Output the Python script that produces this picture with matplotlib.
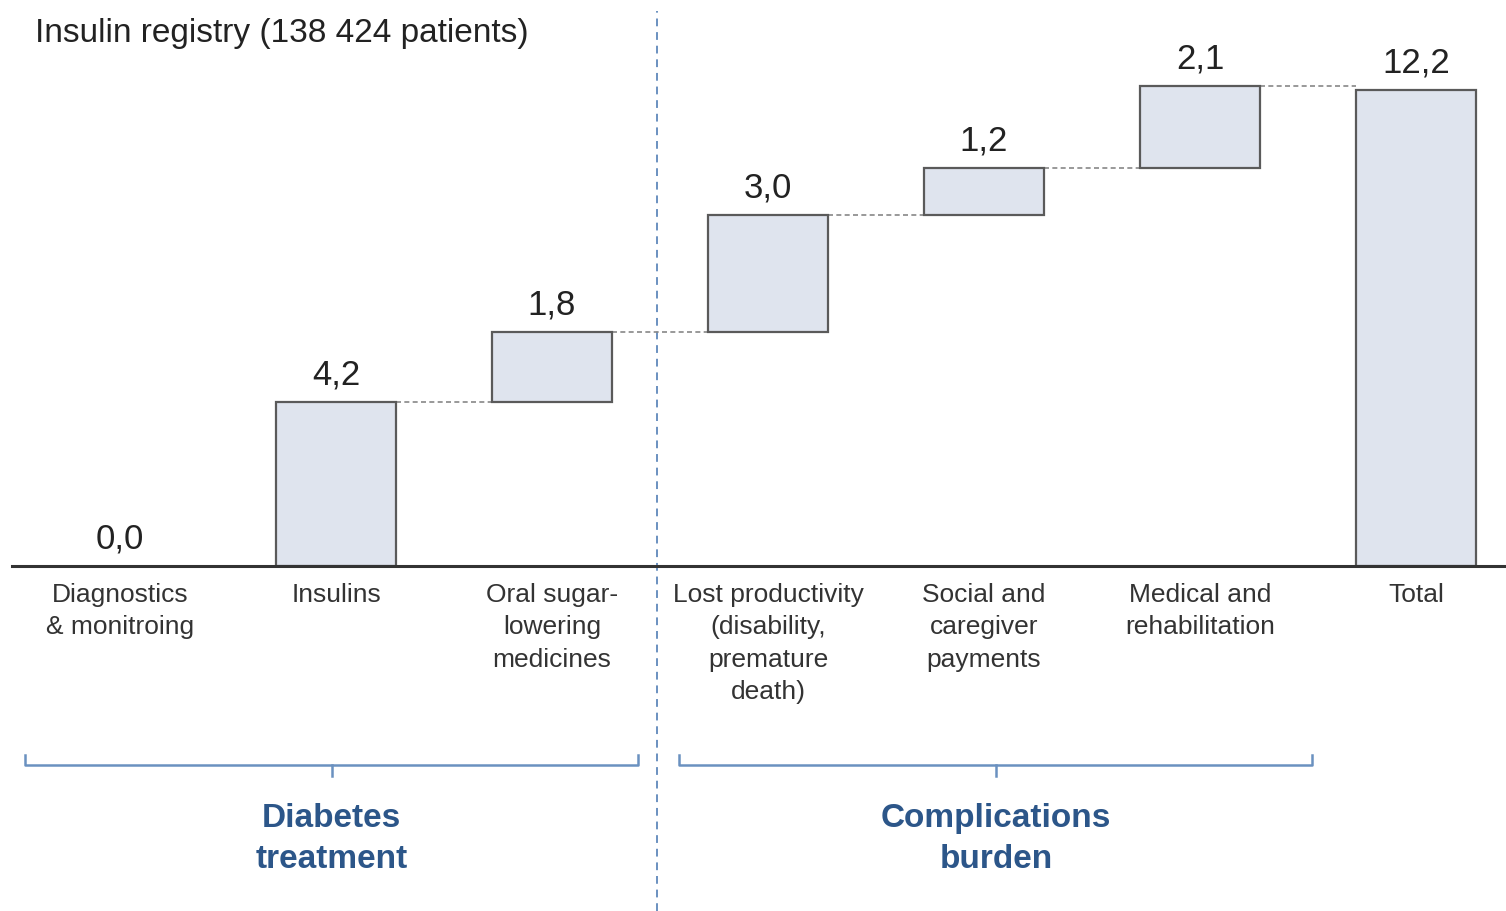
import matplotlib.pyplot as plt
import numpy as np

# insulin registry cost breakdown (values as printed on the chart)
categories = ["Diagnostics\n& monitroing", "Insulins", "Oral sugar-\nlowering\nmedicines",
              "Lost productivity\n(disability,\npremature\ndeath)", "Social and\ncaregiver\npayments",
              "Medical and\nrehabilitation", "Total"]
steps = [0.0, 4.2, 1.8, 3.0, 1.2, 2.1]
total = 12.2
value_labels = ["0,0", "4,2", "1,8", "3,0", "1,2", "2,1", "12,2"]
groups = ["Diabetes\ntreatment", "Complications\nburden"]
group_ranges = [(0, 2), (3, 5)]
title = "Insulin registry (138 424 patients)"

fill = "#dfe4ee"
edge = "#5a5a5a"
blue_line = "#6a91c0"
blue_text = "#2c5689"

plt.rcParams['font.family'] = ['Liberation Sans', 'DejaVu Sans']

fig = plt.figure(figsize=(15.06, 9.12), dpi=100)
ax = fig.add_axes([0, 0, 1, 1])
ax.set_xlim(-120 / 216, (1506 - 120) / 216)
ax.set_ylim(-(912 - 567) / 39, 567 / 39)
ax.axis("off")

w = 0.555
x = np.arange(len(categories))
tops = np.cumsum(steps)
bottoms = tops - np.array(steps)

# floating bars
for i in range(1, len(steps)):
    ax.bar(x[i], steps[i], bottom=bottoms[i], width=w, color=fill,
           edgecolor=edge, linewidth=1.6, zorder=2)
ax.bar(x[-1], total, width=w, color=fill, edgecolor=edge, linewidth=1.6, zorder=2)

# connectors between bars
levels = list(tops) + [total]
for i in range(1, len(categories) - 1):
    ax.plot([x[i] + w / 2, x[i + 1] - w / 2], [levels[i], levels[i]],
            color="#888888", linestyle=(0, (3, 2)), linewidth=1.2, zorder=1)

# value labels
for i, lab in enumerate(value_labels):
    ax.text(x[i], levels[i] + 0.3, lab, ha="center", va="bottom",
            fontsize=25, color="#222222")

# baseline
ax.plot([-108 / 216, ax.get_xlim()[1]], [0, 0], color="#333333", linewidth=2.2, zorder=3)

# category labels
for i, cat in enumerate(categories):
    ax.text(x[i], -0.4, cat, ha="center", va="top", fontsize=19,
            color="#333333", linespacing=1.45)

# divider between groups
ax.plot([2.486, 2.486], [ax.get_ylim()[0], 567 / 39 - 0.3], color=blue_line,
        linestyle=(0, (4, 3)), linewidth=1.4, zorder=0)

# group brackets
by = -5.1
pads = [(0.44, 0.4), (0.41, 0.52)]
for (a, b), (pl, pr), name in zip(group_ranges, pads, groups):
    x0, x1 = x[a] - pl, x[b] + pr
    mid = (x0 + x1) / 2
    ax.plot([x0, x0, x1, x1], [by + 0.25, by, by, by + 0.25], color=blue_line, linewidth=1.8)
    ax.plot([mid, mid], [by, by - 0.28], color=blue_line, linewidth=1.8)
    ax.text(mid, by - 0.95, name, ha="center", va="top", fontsize=24,
            fontweight="bold", color=blue_text, linespacing=1.4)

ax.text(35 / 216 - 120 / 216, 567 / 39 - 0.45, title, ha="left", va="top",
        fontsize=24, color="#222222")

fig.savefig("out.png", dpi=100)
